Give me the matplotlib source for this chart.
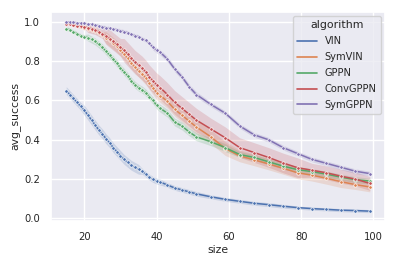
import numpy as np
import matplotlib
matplotlib.use("Agg")
import matplotlib.pyplot as plt
import seaborn as sns
from matplotlib.lines import Line2D

sns.set_theme(style="darkgrid")

# maze sizes evaluated
sizes = list(range(15, 42)) + [43, 45, 47, 49, 51] + list(range(55, 100, 4))

algorithms = ["VIN", "SymVIN", "GPPN", "ConvGPPN", "SymGPPN"]

vin = [0.65, 0.63, 0.61, 0.59, 0.57, 0.55, 0.525, 0.50, 0.475, 0.45, 0.43, 0.405, 0.385,
       0.36, 0.34, 0.32, 0.30, 0.285, 0.27, 0.26, 0.25, 0.24, 0.225, 0.21, 0.198, 0.19,
       0.185, 0.17, 0.155, 0.145, 0.135, 0.125, 0.11, 0.097, 0.087, 0.077, 0.07, 0.062,
       0.055, 0.05, 0.046, 0.042, 0.04, 0.037]
symvin = [0.995, 0.99, 0.985, 0.98, 0.975, 0.97, 0.965, 0.96, 0.955, 0.945, 0.935, 0.92,
          0.905, 0.89, 0.875, 0.855, 0.835, 0.815, 0.79, 0.77, 0.75, 0.735, 0.715, 0.69,
          0.665, 0.64, 0.625, 0.595, 0.555, 0.525, 0.495, 0.465, 0.415, 0.355, 0.318,
          0.298, 0.277, 0.255, 0.232, 0.22, 0.204, 0.187, 0.172, 0.16]
gppn = [0.965, 0.96, 0.95, 0.94, 0.93, 0.925, 0.92, 0.91, 0.90, 0.885, 0.87, 0.85, 0.83,
        0.81, 0.79, 0.765, 0.745, 0.725, 0.70, 0.68, 0.665, 0.655, 0.64, 0.62, 0.60, 0.575,
        0.56, 0.535, 0.49, 0.47, 0.44, 0.415, 0.39, 0.36, 0.325, 0.31, 0.288, 0.266, 0.248,
        0.238, 0.225, 0.21, 0.197, 0.19]
convgppn = [0.99, 0.99, 0.985, 0.98, 0.978, 0.975, 0.97, 0.965, 0.96, 0.95, 0.94, 0.93,
            0.915, 0.90, 0.885, 0.87, 0.855, 0.835, 0.815, 0.795, 0.78, 0.765, 0.745, 0.72,
            0.70, 0.68, 0.665, 0.63, 0.59, 0.56, 0.53, 0.50, 0.455, 0.41, 0.36, 0.335, 0.31,
            0.282, 0.258, 0.245, 0.232, 0.215, 0.20, 0.178]
symgppn = [1.0, 1.0, 0.998, 0.995, 0.993, 0.992, 0.99, 0.988, 0.985, 0.98, 0.975, 0.97,
           0.967, 0.963, 0.96, 0.955, 0.95, 0.945, 0.937, 0.93, 0.925, 0.915, 0.905, 0.89,
           0.87, 0.855, 0.845, 0.81, 0.76, 0.72, 0.67, 0.63, 0.58, 0.535, 0.47, 0.425, 0.40,
           0.36, 0.33, 0.30, 0.28, 0.26, 0.24, 0.228]

# half-width of the confidence band at each size
vin_ci = [0.02] * 5 + [0.025] * 16 + [0.015] * 6 + [0.012] * 5 + [0.01] * 6 + [0.008] * 6
symvin_ci = [0.008] * 6 + [0.015] * 5 + [0.03] * 10 + [0.035] * 11 + [0.035] * 2 \
    + [0.03] * 8 + [0.025] * 2
gppn_ci = [0.01] * 6 + [0.018] * 20 + [0.02] * 8 + [0.015] * 10
convgppn_ci = [0.01] * 6 + [0.025] * 5 + [0.045] * 5 + [0.06] * 16 + [0.055] * 2 \
    + [0.05] * 5 + [0.035] * 5
symgppn_ci = [0.005] * 10 + [0.01] * 14 + [0.014] * 8 + [0.012] * 12

means = [vin, symvin, gppn, convgppn, symgppn]
cis = [vin_ci, symvin_ci, gppn_ci, convgppn_ci, symgppn_ci]
colors = sns.color_palette("deep", 5)

fig = plt.figure(figsize=(3.99, 2.66), dpi=100)
ax = fig.add_axes([0.128, 0.170, 0.837, 0.785])

x = np.array(sizes)
for name, m, c, col in zip(algorithms, means, cis, colors):
    m = np.array(m)
    c = np.array(c)
    ax.fill_between(x, m - c, m + c, color=col, alpha=0.2, linewidth=0)
    ax.plot(x, m, color=col, lw=1.1, marker="o", ms=2.5, mec="white", mew=0.5)

ax.set_xlim(10.8, 103.2)
ax.set_ylim(-0.012, 1.05)
ax.set_xticks([20, 40, 60, 80, 100])
ax.set_yticks([0.0, 0.2, 0.4, 0.6, 0.8, 1.0])
ax.tick_params(labelsize=7.2, pad=2)
ax.set_xlabel("size", fontsize=7.8, labelpad=2)
ax.set_ylabel("avg_success", fontsize=7.8, labelpad=3)

handles = [Line2D([0], [0], color=col, lw=1.2) for col in colors]
leg = ax.legend(handles, algorithms, title="algorithm", loc="upper right",
                fontsize=7.1, title_fontsize=7.9, handlelength=2.0,
                labelspacing=0.6, borderpad=0.45, borderaxespad=0.4)

fig.savefig("out.png", dpi=100)
